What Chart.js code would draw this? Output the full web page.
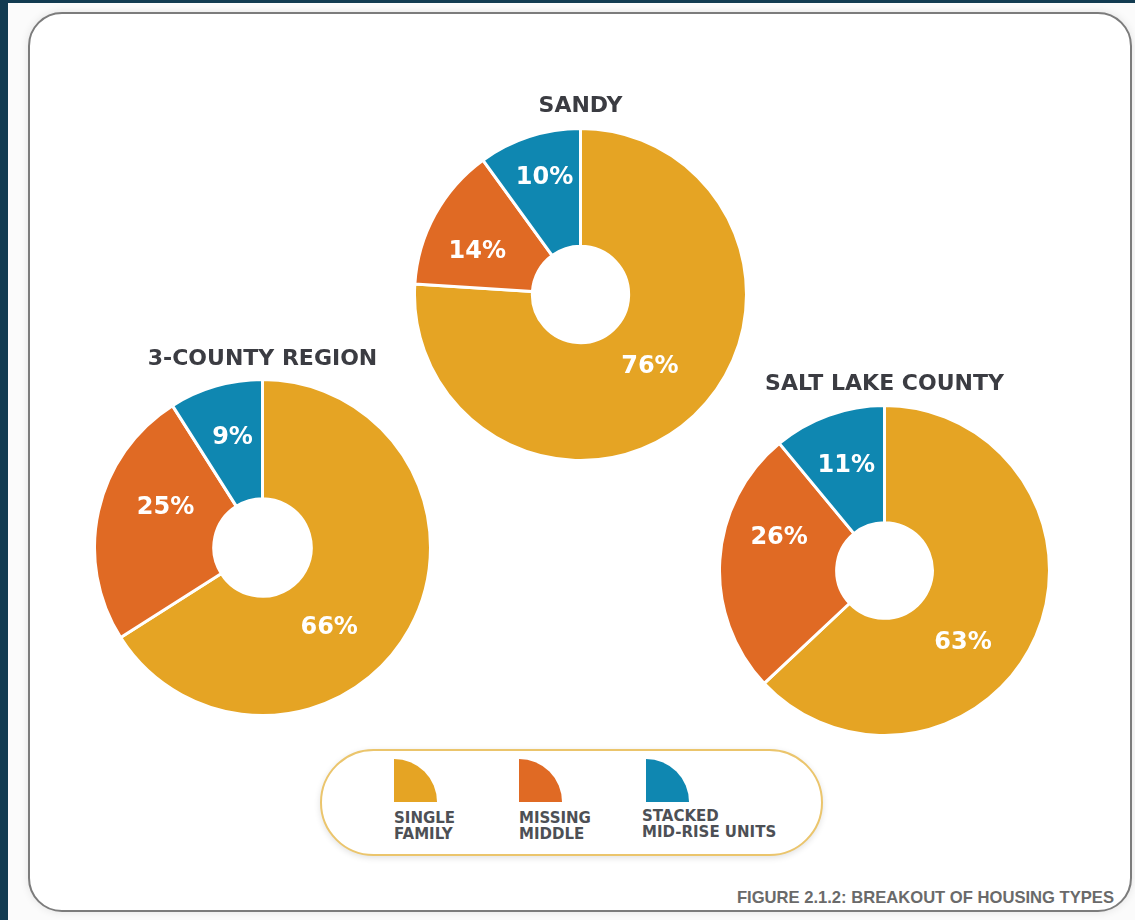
<!DOCTYPE html>
<html>
<head>
<meta charset="utf-8">
<script src="https://cdn.jsdelivr.net/npm/chart.js@4.4.1/dist/chart.umd.min.js"></script>
<style>
  html, body { margin: 0; padding: 0; }
  body {
    width: 1135px; height: 920px; position: relative; overflow: hidden;
    background: #fbfbfb;
    font-family: "DejaVu Sans", sans-serif;
  }
  .edge-left { position: absolute; left: 0; top: 0; width: 8px; height: 920px; background: #123b51; }
  .edge-top { position: absolute; left: 0; top: 0; width: 1135px; height: 3px; background: #123b51; }
  .panel {
    position: absolute; left: 28px; top: 12px; width: 1100px; height: 896px;
    border: 2px solid #7c7c7c; border-radius: 34px; background: #ffffff;
    box-shadow: 0 0 8px rgba(0,0,0,0.10);
  }
  .chart-box { position: absolute; }
  .legend {
    position: absolute; left: 320px; top: 749px; width: 499px; height: 103px;
    border: 2px solid #ebc56c; border-radius: 54px; background: #ffffff;
    box-shadow: 0 2px 6px rgba(0,0,0,0.12);
  }
  .legend-item { position: absolute; top: 0; }
  .legend-icon { position: absolute; top: 8px; left: 0; width: 43px; height: 43px; border-top-right-radius: 43px; }
  .legend-text {
    position: absolute; top: 60px; left: 0; white-space: nowrap;
    font: bold 15px "DejaVu Sans", sans-serif; line-height: 15.5px; color: #4d5055;
  }
  .footer {
    position: absolute; right: 21px; top: 888px;
    font: bold 16.6px "Liberation Sans", sans-serif; color: #6a6a6a; white-space: nowrap;
  }
</style>
</head>
<body>
<div class="edge-left"></div>
<div class="edge-top"></div>
<div class="panel"></div>

<div class="chart-box" style="left:93px; top:348px; width:339px; height:369px;"><canvas id="chart-county"></canvas></div>
<div class="chart-box" style="left:413px; top:95px; width:335px; height:367px;"><canvas id="chart-sandy"></canvas></div>
<div class="chart-box" style="left:718px; top:373px; width:333px; height:364px;"><canvas id="chart-saltlake"></canvas></div>

<div class="legend" id="legend"></div>
<div class="footer" id="footer"></div>

<script>
// Housing type categories and the share (%) of each within the three areas
const categories = ['SINGLE FAMILY', 'MISSING MIDDLE', 'STACKED MID-RISE UNITS'];
const legendLines = [['SINGLE', 'FAMILY'], ['MISSING', 'MIDDLE'], ['STACKED', 'MID-RISE UNITS']];
const areaNames = ['3-COUNTY REGION', 'SANDY', 'SALT LAKE COUNTY'];
const countyRegionShares = [66, 25, 9];
const sandyShares = [76, 14, 10];
const saltLakeShares = [63, 26, 11];
const figureCaption = 'FIGURE 2.1.2: BREAKOUT OF HOUSING TYPES';

const sliceColors = ['#e5a424', '#e06a24', '#0f87b1'];

// Percentage labels: each one sits in its slice, turned a few degrees from the
// slice's middle angle and placed at a fraction of the outer radius.
const sliceLabels = {
  id: 'sliceLabels',
  afterDatasetsDraw(chart, args, opts) {
    const ctx = chart.ctx;
    const meta = chart.getDatasetMeta(0);
    const values = chart.data.datasets[0].data;
    const nudges = opts.nudges || [];
    ctx.save();
    ctx.fillStyle = '#ffffff';
    ctx.font = 'bold 24px "DejaVu Sans", sans-serif';
    ctx.textAlign = 'center';
    ctx.textBaseline = 'middle';
    meta.data.forEach((arc, i) => {
      const p = arc.getProps(['x', 'y', 'startAngle', 'endAngle', 'outerRadius'], true);
      const [turnDeg, radiusFrac] = nudges[i] || [0, 0.6];
      const a = (p.startAngle + p.endAngle) / 2 + turnDeg * Math.PI / 180;
      const r = p.outerRadius * radiusFrac;
      ctx.fillText(values[i] + '%', p.x + Math.cos(a) * r, p.y + Math.sin(a) * r + 1);
    });
    ctx.restore();
  }
};

function makeDonut(canvasId, title, shares, titleGap, nudges) {
  return new Chart(document.getElementById(canvasId), {
    type: 'doughnut',
    data: {
      labels: categories,
      datasets: [{
        data: shares,
        backgroundColor: sliceColors,
        borderColor: '#ffffff',
        borderWidth: 3,
        hoverOffset: 0
      }]
    },
    options: {
      responsive: true,
      maintainAspectRatio: false,
      animation: false,
      cutout: '29%',
      layout: { padding: 0 },
      events: [],
      plugins: {
        legend: { display: false },
        tooltip: { enabled: false },
        title: {
          display: true,
          text: title,
          color: '#3b3c42',
          font: { family: '"DejaVu Sans", sans-serif', size: 22, weight: 'bold', lineHeight: 1.0 },
          padding: { top: 0, bottom: titleGap }
        },
        sliceLabels: { nudges }
      }
    },
    plugins: [sliceLabels]
  });
}

makeDonut('chart-county', areaNames[0], countyRegionShares, 8,
  [[21, 0.615], [10, 0.625], [1, 0.68]]);
makeDonut('chart-sandy', areaNames[1], sandyShares, 10,
  [[-1, 0.60], [-6, 0.675], [1, 0.74]]);
makeDonut('chart-saltlake', areaNames[2], saltLakeShares, 9,
  [[19, 0.645], [14, 0.67], [0, 0.683]]);

// Legend: quarter-circle swatch above a two-line caption for each category
const legendOffsets = [72, 197, 320];
const legendEl = document.getElementById('legend');
categories.forEach((name, i) => {
  const item = document.createElement('div');
  item.className = 'legend-item';
  item.style.left = legendOffsets[i] + 'px';
  const icon = document.createElement('div');
  icon.className = 'legend-icon';
  icon.style.background = sliceColors[i];
  if (i === 2) icon.style.left = '4px';
  const text = document.createElement('div');
  text.className = 'legend-text';
  text.innerHTML = legendLines[i].join('<br>');
  if (i === 2) text.style.top = '58px';
  item.appendChild(icon);
  item.appendChild(text);
  legendEl.appendChild(item);
});

document.getElementById('footer').textContent = figureCaption;
</script>
</body>
</html>
